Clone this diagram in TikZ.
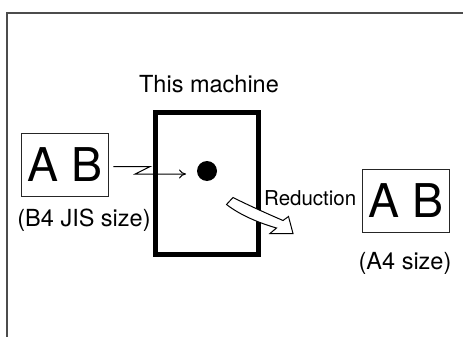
\documentclass[tikz,border=0pt]{standalone}
\usepackage{fontspec}
\setmainfont{TeX Gyre Heros}
\usetikzlibrary{arrows.meta,positioning}

\begin{document}
\begin{tikzpicture}[x=1pt, y=-1pt, every node/.style={inner sep=0pt, font=\fontsize{23.5}{28}\selectfont}, sheet/.style={draw=black!85, line width=1pt, minimum width=87pt, minimum height=63pt, font=\fontsize{46.5}{50}\selectfont}, frame/.style={draw=black!70, line width=1.2pt}, feed/.style={-{To[length=7pt,width=9pt]}, line width=1pt}]
\useasboundingbox (0,0) rectangle (463,337);
\draw[frame] (463,13) -- (7,13) -- (7,337);
% original and reduced copy
\node[sheet] (src) at (65.3,165) {A B};
\node[sheet] (dst) at (406.3,201) {A B};
\node[anchor=base] (srcsize) at (84,226) {(B4 JIS size)};
\node[anchor=base] (dstsize) at (405,269) {(A4 size)};
% the machine
\node[draw, line width=5pt, minimum width=103pt, minimum height=142pt] (machine) at (207,183.5) {};
\node[circle, fill, minimum size=20pt] (dot) at (207,171) {};
\node[anchor=base] (title) at (209,92.3) {This machine};
\node[anchor=base west, font=\fontsize{20.5}{24}\selectfont] (reduce) at (264,205) {Reduction};
\coordinate (feedend) at (186,174);
\draw[feed] ([xshift=4pt,yshift=-1.5pt]src.east) -- ++(37,0) -- ++(-15,7.5) -- (feedend);
\draw[fill=white, line width=1pt] (226.5,204.5) -- (233,197.5) .. controls (250,206) and (268,214) .. (283,220.5) -- (288.5,216.5) -- (293,233.5) -- (270,233.5) -- (276.5,228) .. controls (259,223) and (240,215) .. cycle;
\end{tikzpicture}
\end{document}
